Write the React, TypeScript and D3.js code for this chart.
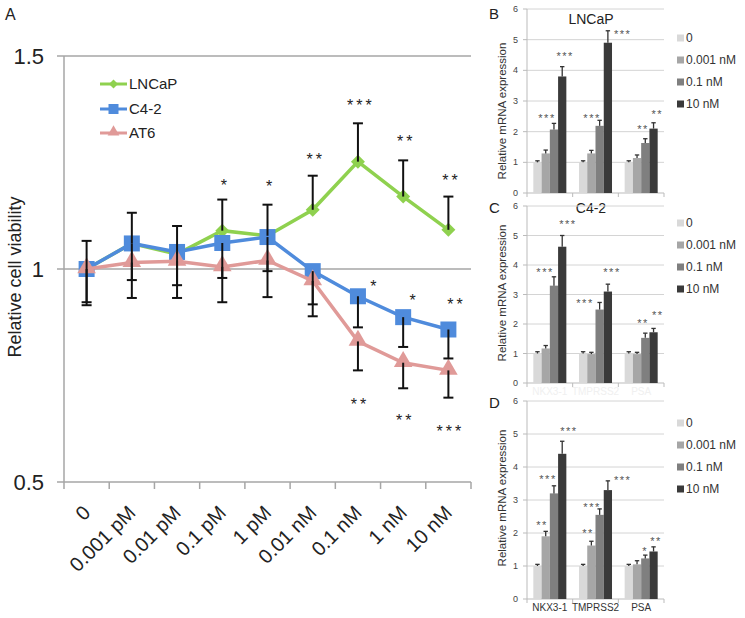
import React from "react";
import * as d3 from "d3";

// ---------- Panel A data ----------
const categories = ["0", "0.001 pM", "0.01 pM", "0.1 pM", "1 pM", "0.01 nM", "0.1 nM", "1 nM", "10 nM"];
const lncapViab = [1.0, 1.06, 1.035, 1.09, 1.078, 1.139, 1.252, 1.17, 1.092];
const lncapViabErr = [0.066, 0.072, 0.066, 0.073, 0.073, 0.08, 0.09, 0.085, 0.078];
const c42Viab = [1.0, 1.06, 1.04, 1.061, 1.075, 0.995, 0.936, 0.887, 0.858];
const c42ViabErr = [0.078, 0.086, 0.078, 0.082, 0.08, 0.078, 0.073, 0.07, 0.068];
const at6Viab = [1.0, 1.015, 1.018, 1.005, 1.02, 0.972, 0.83, 0.78, 0.762];
const at6ViabErr = [0.085, 0.083, 0.086, 0.083, 0.086, 0.083, 0.068, 0.06, 0.064];
const viabTicks = [0.5, 1, 1.5];

const lncapStars = [
  { c: "0.1 pM", v: 1.204, t: "*" },
  { c: "1 pM", v: 1.202, t: "*" },
  { c: "0.01 nM", v: 1.265, t: "**" },
  { c: "0.1 nM", v: 1.392, t: "***" },
  { c: "1 nM", v: 1.308, t: "**" },
  { c: "10 nM", v: 1.216, t: "**" },
];
const c42Stars = [
  { c: "0.1 nM", v: 0.967, t: "*" },
  { c: "1 nM", v: 0.934, t: "*" },
  { c: "10 nM", v: 0.925, t: "**" },
];
const at6Stars = [
  { c: "0.1 nM", v: 0.69, t: "**" },
  { c: "1 nM", v: 0.653, t: "**" },
  { c: "10 nM", v: 0.627, t: "***" },
];

// ---------- Panels B-D data ----------
const genes = ["NKX3-1", "TMPRSS2", "PSA"];
const doses = ["0", "0.001 nM", "0.1 nM", "10 nM"];
const exprTicks = [0, 1, 2, 3, 4, 5, 6];

const lncapNKX = [1.0, 1.29, 2.07, 3.8];
const lncapNKXErr = [0.05, 0.11, 0.2, 0.32];
const lncapTMP = [1.0, 1.29, 2.19, 4.9];
const lncapTMPErr = [0.05, 0.1, 0.18, 0.39];
const lncapPSA = [1.0, 1.14, 1.63, 2.1];
const lncapPSAErr = [0.05, 0.1, 0.14, 0.19];

const c42NKX = [1.0, 1.17, 3.3, 4.62];
const c42NKXErr = [0.06, 0.1, 0.3, 0.38];
const c42TMP = [1.0, 0.98, 2.49, 3.1];
const c42TMPErr = [0.06, 0.06, 0.24, 0.25];
const c42PSA = [1.0, 0.98, 1.53, 1.72];
const c42PSAErr = [0.06, 0.06, 0.16, 0.13];

const at6NKX = [1.0, 1.9, 3.2, 4.4];
const at6NKXErr = [0.05, 0.15, 0.23, 0.38];
const at6TMP = [1.0, 1.62, 2.55, 3.3];
const at6TMPErr = [0.05, 0.13, 0.18, 0.28];
const at6PSA = [1.0, 1.05, 1.23, 1.44];
const at6PSAErr = [0.05, 0.11, 0.1, 0.14];

const lncapExprStars = [
  { g: 0, i: 1.16, v: 2.51, t: "***" },
  { g: 0, i: 3.35, v: 4.53, t: "***" },
  { g: 1, i: 1.08, v: 2.51, t: "***" },
  { g: 1, i: 4.8, v: 5.25, t: "***" },
  { g: 2, i: 1.72, v: 2.18, t: "**" },
  { g: 2, i: 3.45, v: 2.67, t: "**" },
];
const c42ExprStars = [
  { g: 0, i: 0.92, v: 3.83, t: "***" },
  { g: 0, i: 3.7, v: 5.46, t: "***" },
  { g: 1, i: 0.23, v: 2.78, t: "***" },
  { g: 1, i: 3.5, v: 3.83, t: "***" },
  { g: 2, i: 1.72, v: 2.13, t: "**" },
  { g: 2, i: 3.5, v: 2.4, t: "**" },
];
const at6ExprStars = [
  { g: 0, i: 0.56, v: 2.31, t: "**" },
  { g: 0, i: 1.28, v: 3.7, t: "***" },
  { g: 0, i: 3.8, v: 5.15, t: "***" },
  { g: 1, i: 0.6, v: 2.08, t: "**" },
  { g: 1, i: 1.08, v: 2.86, t: "***" },
  { g: 1, i: 4.8, v: 3.68, t: "***" },
  { g: 2, i: 1.97, v: 1.53, t: "*" },
  { g: 2, i: 3.3, v: 1.83, t: "**" },
];

// ---------- styles ----------
const FONT = "'Liberation Sans', Arial, sans-serif";
const GREEN = "#8fd14f";
const BLUE = "#4f8bdc";
const PINK = "#e09a98";
const AXIS = "#a6a6a6";
const doseColors = ["#d9d9d9", "#a6a6a6", "#7f7f7f", "#3a3a3a"];

function diamond(cx: number, cy: number, r: number) {
  return `M${cx},${cy - r}L${cx + r},${cy}L${cx},${cy + r}L${cx - r},${cy}Z`;
}

function PanelA() {
  const x = d3.scaleBand<string>().domain(categories).range([64, 471]).padding(0);
  const y = d3.scaleLinear().domain([0.5, 1.5]).range([482, 56]);
  const cx = (c: string) => (x(c) as number) + x.bandwidth() / 2;
  const line = d3
    .line<number>()
    .x((_, i) => cx(categories[i]))
    .y((d) => y(d));
  const sqSym = d3.symbol(d3.symbolSquare, 16 * 16);
  const triSym = d3.symbol(d3.symbolTriangle, 150);
  const starFs = 16;
  const starY = (v: number) => y(v) + 0.58 * starFs;

  const errBar = (c: string, v: number, e: number, dir: number, key: string) => {
    const X = cx(c);
    const y1 = y(v);
    const y2 = y(v + dir * e);
    return (
      <g key={key} stroke="#111" strokeWidth={2}>
        <line x1={X} x2={X} y1={y1} y2={y2} />
        <line x1={X - 5} x2={X + 5} y1={y2} y2={y2} />
      </g>
    );
  };

  return (
    <g fontFamily={FONT}>
      <text x={5} y={20} fontSize={16} fill="#222">A</text>
      {/* gridlines / axes */}
      {[1, 1.5].map((t) => (
        <line key={t} x1={57} x2={471} y1={y(t)} y2={y(t)} stroke={AXIS} strokeWidth={1.5} />
      ))}
      <line x1={64} x2={64} y1={y(1.5)} y2={y(0.5)} stroke={AXIS} strokeWidth={1.5} />
      <line x1={57} x2={471} y1={y(0.5)} y2={y(0.5)} stroke={AXIS} strokeWidth={1.5} />
      {categories.map((c) => (
        <line key={c} x1={x(c) as number} x2={x(c) as number} y1={y(0.5)} y2={y(0.5) + 7} stroke={AXIS} strokeWidth={1.5} />
      ))}
      <line x1={471} x2={471} y1={y(0.5)} y2={y(0.5) + 7} stroke={AXIS} strokeWidth={1.5} />
      {viabTicks.map((t) => (
        <text key={t} x={44} y={y(t)} dy="0.36em" textAnchor="end" fontSize={22} fill="#222">
          {t === 1 ? "1" : t.toFixed(1)}
        </text>
      ))}
      <text transform={`translate(21,277) rotate(-90)`} textAnchor="middle" fontSize={18} fill="#222">
        Relative cell viability
      </text>
      {categories.map((c) => (
        <text
          key={c}
          transform={`translate(${cx(c) + 5},514) rotate(-45)`}
          textAnchor="end"
          fontSize={20}
          fill="#222"
        >
          {c}
        </text>
      ))}
      {/* lines */}
      <path d={line(lncapViab) as string} fill="none" stroke={GREEN} strokeWidth={3.5} />
      {lncapViab.map((v, i) => (
        <path key={i} d={diamond(cx(categories[i]), y(v), 7)} fill={GREEN} />
      ))}
      <path d={line(c42Viab) as string} fill="none" stroke={BLUE} strokeWidth={3.5} />
      {c42Viab.map((v, i) => (
        <path key={i} d={sqSym() as string} transform={`translate(${cx(categories[i])},${y(v)})`} fill={BLUE} />
      ))}
      <path d={line(at6Viab) as string} fill="none" stroke={PINK} strokeWidth={3.5} />
      {at6Viab.map((v, i) => (
        <path key={i} d={triSym() as string} transform={`translate(${cx(categories[i])},${y(v) - 1})`} fill={PINK} />
      ))}
      {/* error bars */}
      {lncapViab.map((v, i) => errBar(categories[i], v, lncapViabErr[i], 1, "l" + i))}
      {c42Viab.map((v, i) => errBar(categories[i], v, c42ViabErr[i], -1, "c" + i))}
      {at6Viab.map((v, i) => errBar(categories[i], v, at6ViabErr[i], -1, "a" + i))}
      {/* stars */}
      {lncapStars.map((s, k) => (
        <text key={"ls" + k} x={cx(s.c) + 3} y={starY(s.v)} textAnchor="middle" fontSize={starFs} letterSpacing={3} fill="#222">
          {s.t}
        </text>
      ))}
      {c42Stars.map((s, k) => (
        <text key={"cs" + k} x={cx(s.c) + (s.t === "*" ? (k === 0 ? 17 : 11) : 8)} y={starY(s.v)} textAnchor="middle" fontSize={starFs} letterSpacing={3} fill="#222">
          {s.t}
        </text>
      ))}
      {at6Stars.map((s, k) => (
        <text key={"as" + k} x={cx(s.c) + 2} y={starY(s.v)} textAnchor="middle" fontSize={starFs} letterSpacing={3} fill="#222">
          {s.t}
        </text>
      ))}
      {/* legend */}
      {[
        { name: "LNCaP", color: GREEN, kind: "d", ly: 84 },
        { name: "C4-2", color: BLUE, kind: "s", ly: 109 },
        { name: "AT6", color: PINK, kind: "t", ly: 133 },
      ].map((L) => (
        <g key={L.name}>
          <line x1={100} x2={127} y1={L.ly} y2={L.ly} stroke={L.color} strokeWidth={3} />
          {L.kind === "d" && <path d={diamond(113.5, L.ly, 4.5)} fill={L.color} />}
          {L.kind === "s" && <rect x={108.5} y={L.ly - 5} width={10} height={10} fill={L.color} />}
          {L.kind === "t" && (
            <path d={d3.symbol(d3.symbolTriangle, 60)() as string} transform={`translate(113.5,${L.ly - 1})`} fill={L.color} />
          )}
          <text x={129} y={L.ly} dy="0.36em" fontSize={15} fill="#222">
            {L.name}
          </text>
        </g>
      ))}
    </g>
  );
}

type Star = { g: number; i: number; v: number; t: string };

function BarPanel(props: {
  letter: string;
  letterY: number;
  title?: string;
  titleY?: number;
  y0: number;
  y6: number;
  vals: number[][];
  errs: number[][];
  stars: Star[];
  legendY: number;
  yTitleY: number;
  catFill?: string;
}) {
  const { letter, letterY, title, titleY, y0, y6, vals, errs, stars, legendY, yTitleY, catFill } = props;
  const x0 = d3.scaleBand<string>().domain(genes).range([527, 664]).paddingInner(0.277).paddingOuter(0.1385);
  const x1 = d3.scaleBand<string>().domain(doses).range([0, x0.bandwidth()]).padding(0);
  const y = d3.scaleLinear().domain([0, 6]).range([y0, y6]);
  const step = x0.step();
  const bw = x1.bandwidth();
  const starFs = 11;
  return (
    <g fontFamily={FONT}>
      <text x={489} y={letterY} fontSize={15} fill="#222">{letter}</text>
      {title && (
        <text x={591} y={titleY} dy="0.36em" textAnchor="middle" fontSize={14} fill="#222">{title}</text>
      )}
      {exprTicks.map((t) => (
        <g key={t}>
          {t > 0 && <line x1={527} x2={664} y1={y(t)} y2={y(t)} stroke="#d4d4d4" strokeWidth={1} />}
          <line x1={523} x2={527} y1={y(t)} y2={y(t)} stroke="#bbb" strokeWidth={1} />
          <text x={518} y={y(t)} dy="0.35em" textAnchor="end" fontSize={9} fill="#444">{t}</text>
        </g>
      ))}
      <line x1={527} x2={527} y1={y6} y2={y0} stroke="#bbb" strokeWidth={1} />
      <line x1={527} x2={664} y1={y0} y2={y0} stroke="#bbb" strokeWidth={1} />
      {[0, 1, 2, 3].map((k) => (
        <line key={k} x1={527 + k * step} x2={527 + k * step} y1={y0} y2={y0 + 4} stroke="#bbb" strokeWidth={1} />
      ))}
      <text transform={`translate(506,${yTitleY}) rotate(-90)`} textAnchor="middle" fontSize={11.5} fill="#333">
        Relative mRNA expression
      </text>
      {genes.map((g, gi) => (
        <g key={g}>
          {doses.map((d, di) => {
            const bx = (x0(g) as number) + (x1(d) as number);
            const v = vals[gi][di];
            const top = y(v + errs[gi][di]);
            const mid = bx + bw / 2;
            return (
              <g key={d}>
                <rect x={bx} y={y(v)} width={bw} height={y0 - y(v)} fill={doseColors[di]} />
                <line x1={mid} x2={mid} y1={y(v)} y2={top} stroke="#333" strokeWidth={1.3} />
                <line x1={mid - 2.2} x2={mid + 2.2} y1={top} y2={top} stroke="#333" strokeWidth={1.3} />
              </g>
            );
          })}
          {catFill && (
            <text x={(x0(g) as number) + x0.bandwidth() / 2} y={y0 + 12} textAnchor="middle" fontSize={10} fill={catFill}>
              {g}
            </text>
          )}
        </g>
      ))}
      {stars.map((s, k) => (
        <text
          key={k}
          x={(x0(genes[s.g]) as number) + (s.i + 0.5) * bw}
          y={y(s.v) + 0.58 * starFs}
          textAnchor="middle"
          fontSize={starFs}
          letterSpacing={1.5}
          fill="#555"
        >
          {s.t}
        </text>
      ))}
      {doses.map((d, di) => (
        <g key={d}>
          <rect x={677} y={legendY + di * 22 - 3.5} width={7} height={7} fill={doseColors[di]} />
          <text x={686} y={legendY + di * 22} dy="0.36em" fontSize={12} fill="#333">{d}</text>
        </g>
      ))}
    </g>
  );
}

export default function App() {
  return (
    <svg width={745} height={618} style={{ position: "absolute", left: 0, top: 0, background: "#fff" }}>
      <rect width={745} height={618} fill="#fff" />
      <PanelA />
      <BarPanel
        letter="B"
        letterY={19}
        title="LNCaP"
        titleY={19}
        y0={193}
        y6={9}
        vals={[lncapNKX, lncapTMP, lncapPSA]}
        errs={[lncapNKXErr, lncapTMPErr, lncapPSAErr]}
        stars={lncapExprStars}
        legendY={38}
        yTitleY={111}
      />
      <BarPanel
        letter="C"
        letterY={213}
        title="C4-2"
        titleY={208}
        y0={383}
        y6={206}
        vals={[c42NKX, c42TMP, c42PSA]}
        errs={[c42NKXErr, c42TMPErr, c42PSAErr]}
        stars={c42ExprStars}
        legendY={223}
        yTitleY={293}
        catFill="#f0f0f0"
      />
      <BarPanel
        letter="D"
        letterY={408}
        y0={599}
        y6={401}
        vals={[at6NKX, at6TMP, at6PSA]}
        errs={[at6NKXErr, at6TMPErr, at6PSAErr]}
        stars={at6ExprStars}
        legendY={423}
        yTitleY={498}
        catFill="#333"
      />
    </svg>
  );
}
